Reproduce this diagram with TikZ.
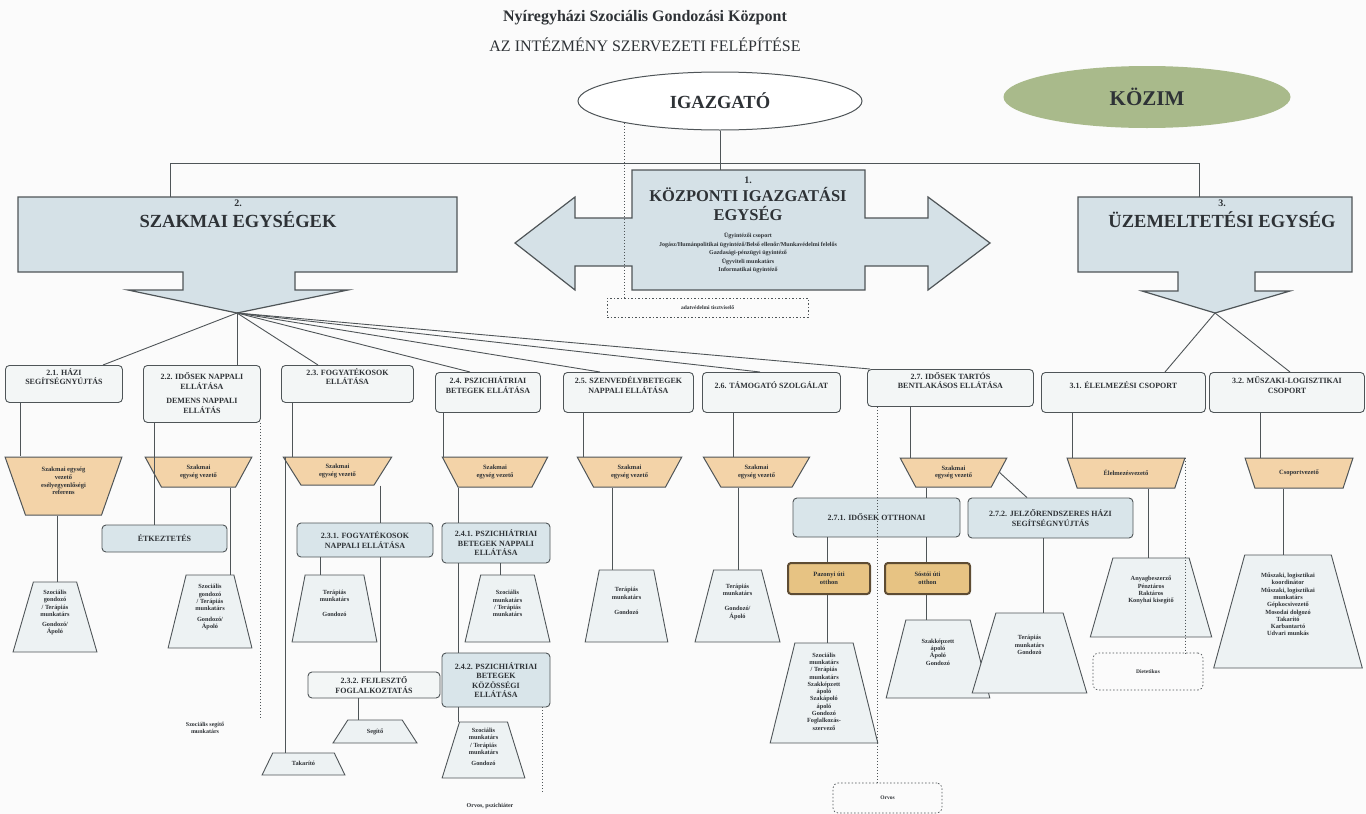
\documentclass[tikz,border=0pt]{standalone}
\usepackage{fontspec}
\setmainfont{Liberation Serif}
\usetikzlibrary{shapes.geometric}
\definecolor{lineC}{HTML}{4F5558}
\definecolor{txtC}{HTML}{2E3236}
\definecolor{bgC}{HTML}{FBFBFB}
\definecolor{bigC}{HTML}{D5E1E7}
\definecolor{l2C}{HTML}{F3F6F6}
\definecolor{subC}{HTML}{D9E5EA}
\definecolor{tanC}{HTML}{F3D3A8}
\definecolor{lowC}{HTML}{EDF2F3}
\definecolor{brownC}{HTML}{E7C383}
\definecolor{brownD}{HTML}{5E4C33}
\definecolor{kozimC}{HTML}{A9BA8B}
\tikzset{
  trapdims/.code n args={3}{%
    \pgfmathsetmacro\trA{atan2(2*(#3),(#2)-(#1))}%
    \pgfmathsetmacro\trW{max(#1,#2)}%
    \edef\trNext{\noexpand\pgfkeysalso{/tikz/shape=trapezium,/pgf/trapezium stretches=true,/pgf/minimum width=\trW pt,/pgf/minimum height=#3pt,/pgf/trapezium angle=\trA}}%
    \trNext},
  conn/.style={draw=lineC, line width=0.9pt},
  dotl/.style={draw=lineC, line width=0.8pt, dash pattern=on 1pt off 2pt},
  lvtwo/.style={draw=lineC, line width=0.9pt, rounded corners=4pt, fill=l2C, font=\bfseries\fontsize{8}{9.4}\selectfont, text=txtC, align=center, inner sep=1pt, anchor=north west, text depth=15pt},
  subbox/.style={draw=lineC, line width=0.9pt, rounded corners=4pt, fill=subC, font=\bfseries\fontsize{8}{9.4}\selectfont, text=txtC, align=center, inner sep=1pt},
  tantrap/.style={draw=lineC, line width=1pt, fill=tanC, font=\bfseries\fontsize{6.5}{7.6}\selectfont, text=txtC, align=center, inner sep=1pt},
  lowtrap/.style={draw=lineC, line width=0.9pt, fill=lowC, font=\bfseries\fontsize{6.3}{7.3}\selectfont, text=txtC, align=center, inner sep=1pt, text depth=10pt},
  brownbox/.style={draw=brownD, line width=2pt, rounded corners=3pt, fill=brownC, font=\bfseries\fontsize{6.5}{7.6}\selectfont, text=txtC, align=center, inner sep=1pt},
  dashbox/.style={draw=lineC, line width=0.7pt, dash pattern=on 1.5pt off 2pt, font=\bfseries\fontsize{5.5}{6.5}\selectfont, text=txtC, align=center, inner sep=1pt},
  bigshape/.style={draw=lineC, line width=1.2pt, fill=bigC},
  bigtext/.style={font=\bfseries\fontsize{18.5}{21}\selectfont, text=txtC, align=center, inner sep=0pt},
  smalltext/.style={font=\bfseries\fontsize{6}{7}\selectfont, text=txtC, align=center, inner sep=0pt}
}
\begin{document}
\begin{tikzpicture}[x=1pt,y=-1pt]
\useasboundingbox (0,0) rectangle (1366,814);
\fill[bgC] (0,0) rectangle (1366,814);

% titles
\node[font=\bfseries\fontsize{16}{18}\selectfont, text=txtC] (title) at (645,18) {Nyíregyházi Szociális Gondozási Központ};
\node[font=\fontsize{16}{18}\selectfont, text=txtC] (subtitle) at (645,45) {AZ INTÉZMÉNY SZERVEZETI FELÉPÍTÉSE};

% top ellipses
\node[ellipse, draw=lineC, line width=1pt, fill=white, minimum width=284, minimum height=58, font=\bfseries\fontsize{18.5}{20}\selectfont, text=txtC] (igaz) at (720,101) {IGAZGATÓ};
\node[ellipse, fill=kozimC, minimum width=287, minimum height=62, font=\bfseries\fontsize{21}{23}\selectfont, text=txtC] (kozim) at (1147,97) {KÖZIM};

% central double arrow
\path[bigshape] (632,170) -- (865,170) -- (865,218) -- (928,218) -- (928,197) -- (990,243) -- (928,290) -- (928,266) -- (865,266) -- (865,290) -- (632,290) -- (632,266) -- (575,266) -- (575,290) -- (515,243) -- (575,197) -- (575,218) -- (632,218) -- cycle;
\node[minimum width=233, minimum height=120, inner sep=0pt] (kozp) at (748.5,230) {};
\node[font=\bfseries\fontsize{16.5}{18.5}\selectfont, text=txtC, align=center, anchor=north] (kozpT) at (748,173) {{\fontsize{10}{12}\selectfont 1.}\\KÖZPONTI IGAZGATÁSI\\EGYSÉG};
\node[font=\bfseries\fontsize{6}{8.6}\selectfont, text=txtC, align=center, anchor=north] (kozpS) at (748,229) {Ügyintézői csoport\\Jogász/Humánpolitikai ügyintéző/Belső ellenőr/Munkavédelmi felelős\\Gazdasági-pénzügyi ügyintéző\\Ügyviteli munkatárs\\Informatikai ügyintéző};
\node[dashbox, minimum width=201, minimum height=19] (dAdm) at (707.5,307.5) {adatvédelmi tisztviselő};

% SZAKMAI EGYSEGEK
\path[bigshape] (18,197) -- (457,197) -- (457,272) -- (295,272) -- (295,290) -- (348,290) -- (237,313) -- (128,290) -- (183,290) -- (183,272) -- (18,272) -- cycle;
\node[minimum width=439, minimum height=75, inner sep=0pt] (szak) at (237.5,234.5) {};
\node[bigtext, anchor=north] (szakT) at (238,200) {{\fontsize{10}{12}\selectfont 2.}\\SZAKMAI EGYSÉGEK};
\coordinate (szTip) at (237,313);

% UZEMELTETESI EGYSEG
\path[bigshape] (1078,197) -- (1352,197) -- (1352,272) -- (1255,272) -- (1255,291) -- (1290,291) -- (1215,313) -- (1142,291) -- (1178,291) -- (1178,272) -- (1078,272) -- cycle;
\node[minimum width=274, minimum height=75, inner sep=0pt] (uzem) at (1215,234.5) {};
\node[bigtext, anchor=north] (uzemT) at (1222,200) {{\fontsize{10}{12}\selectfont 3.}\\ÜZEMELTETÉSI EGYSÉG};
\coordinate (uzTip) at (1215,313);

% level 2 boxes
\node[lvtwo, minimum width=117, minimum height=37] (b21) at (5,365) {2.1. HÁZI\\SEGÍTSÉGNYÚJTÁS};
\node[lvtwo, text depth=2pt, minimum width=117, minimum height=57] (b22) at (143,365) {2.2. IDŐSEK NAPPALI\\ELLÁTÁSA\\[5pt]DEMENS NAPPALI\\ELLÁTÁS};
\node[lvtwo, minimum width=132, minimum height=37] (b23) at (281,365) {2.3. FOGYATÉKOSOK\\ELLÁTÁSA};
\node[lvtwo, minimum width=105, minimum height=40] (b24) at (435,372) {2.4. PSZICHIÁTRIAI\\BETEGEK ELLÁTÁSA};
\node[lvtwo, minimum width=130, minimum height=40] (b25) at (563,372) {2.5. SZENVEDÉLYBETEGEK\\NAPPALI ELLÁTÁSA};
\node[lvtwo, minimum width=138, minimum height=40] (b26) at (702,372) {2.6. TÁMOGATÓ SZOLGÁLAT};
\node[lvtwo, minimum width=166, minimum height=37] (b27) at (867,369) {2.7. IDŐSEK TARTÓS\\BENTLAKÁSOS ELLÁTÁSA};
\node[lvtwo, minimum width=164, minimum height=40] (b31) at (1041,372) {3.1. ÉLELMEZÉSI CSOPORT};
\node[lvtwo, minimum width=155, minimum height=40] (b32) at (1209,372) {3.2. MŰSZAKI-LOGISZTIKAI\\CSOPORT};

% tan trapezoids
\node[tantrap, text depth=10pt, trapdims={117}{80}{58}] (t21) at (63.5,486) {Szakmai egység\\vezető\\esélyegyenlőségi\\referens};
\node[tantrap, trapdims={107}{74}{30}] (t22) at (198.5,472) {Szakmai\\egység vezető};
\node[tantrap, trapdims={109}{75}{28}] (t23) at (337.5,471) {Szakmai\\egység vezető};
\node[tantrap, trapdims={106}{74}{30}] (t24) at (495,472) {Szakmai\\egység vezető};
\node[tantrap, trapdims={105}{71}{30}] (t25) at (629.5,472) {Szakmai\\egység vezető};
\node[tantrap, trapdims={107}{70}{30}] (t26) at (756.5,472) {Szakmai\\egység vezető};
\node[tantrap, trapdims={107}{77}{29}] (t27) at (953.5,472.5) {Szakmai\\egység vezető};
\node[tantrap, trapdims={118}{80}{30}] (t31) at (1126,473) {Élelmezésvezető};
\node[tantrap, trapdims={108}{73}{30}] (t32) at (1299,473) {Csoportvezető};

% sub boxes
\node[subbox, minimum width=125, minimum height=27] (etk) at (164.5,538.5) {ÉTKEZTETÉS};
\node[subbox, minimum width=136, minimum height=34] (b231) at (365,540) {2.3.1. FOGYATÉKOSOK\\NAPPALI ELLÁTÁSA};
\node[subbox, fill=l2C, minimum width=132, minimum height=26] (b232) at (374,685) {2.3.2. FEJLESZTŐ\\FOGLALKOZTATÁS};
\node[subbox, minimum width=108, minimum height=40] (b241) at (496,543) {2.4.1. PSZICHIÁTRIAI\\BETEGEK NAPPALI\\ELLÁTÁSA};
\node[subbox, minimum width=108, minimum height=54] (b242) at (496,680) {2.4.2. PSZICHIÁTRIAI\\BETEGEK\\KÖZÖSSÉGI\\ELLÁTÁSA};
\node[subbox, minimum width=167, minimum height=39] (b271) at (876.5,517.5) {2.7.1. IDŐSEK OTTHONAI};
\node[subbox, minimum width=165, minimum height=40] (b272) at (1050.5,518) {2.7.2. JELZŐRENDSZERES HÁZI\\SEGÍTSÉGNYÚJTÁS};
\node[brownbox, minimum width=82, minimum height=31] (br1) at (829,578.5) {Pazonyi úti\\otthon};
\node[brownbox, minimum width=85, minimum height=31] (br2) at (927.5,578.5) {Sóstói úti\\otthon};

% lower trapezoids
\node[lowtrap, trapdims={47}{84}{70}] (l21) at (55,617) {Szociális\\gondozó\\/ Terápiás\\munkatárs\\[3pt]Gondozó/\\Ápoló};
\node[lowtrap, trapdims={53}{84}{73}] (l22) at (210,611.5) {Szociális\\gondozó\\/ Terápiás\\munkatárs\\[3pt]Gondozó/\\Ápoló};
\node[lowtrap, trapdims={61}{85}{67}] (l231) at (334.5,608.5) {Terápiás\\munkatárs\\[8pt]Gondozó};
\node[lowtrap, text depth=1pt, trapdims={53}{84}{23}] (l232) at (375,731.5) {Segítő};
\node[lowtrap, text depth=1pt, trapdims={57}{83}{22}] (ltak) at (303.5,764) {Takarító};
\node[lowtrap, trapdims={53}{85}{67}] (l241) at (507.5,608.5) {Szociális\\munkatárs\\/ Terápiás\\munkatárs};
\node[lowtrap, text depth=6pt, trapdims={55}{83}{56}] (l242) at (483.5,750) {Szociális\\munkatárs\\/ Terápiás\\munkatárs\\[4pt]Gondozó};
\node[lowtrap, trapdims={53}{83}{72}] (l25) at (626.5,606) {Terápiás\\munkatárs\\[8pt]Gondozó};
\node[lowtrap, trapdims={47}{85}{72}] (l26) at (737.5,606) {Terápiás\\munkatárs\\[8pt]Gondozó/\\Ápoló};
\node[lowtrap, text depth=3pt, trapdims={71}{108}{100}] (l271a) at (824,693) {Szociális\\munkatárs\\/ Terápiás\\munkatárs\\Szakképzett\\ápoló\\Szakápoló\\ápoló\\Gondozó\\Foglalkozás-\\szervező};
\node[lowtrap, text depth=14pt, trapdims={65}{104}{78}] (l271b) at (938,659) {Szakképzett\\ápoló\\Ápoló\\Gondozó};
\node[lowtrap, text depth=16pt, trapdims={67}{115}{80}] (l272) at (1029.5,653) {Terápiás\\munkatárs\\Gondozó};
\node[lowtrap, text depth=16pt, trapdims={72}{122}{79}] (l31) at (1151,597.5) {Anyagbeszerző\\Pénztáros\\Raktáros\\Konyhai kisegítő};
\node[lowtrap, text depth=14pt, trapdims={93}{150}{113}] (l32) at (1288,611.5) {Műszaki, logisztikai\\koordinátor\\Műszaki, logisztikai\\munkatárs\\Gépkocsivezető\\Mosodai dolgozó\\Takarító\\Karbantartó\\Udvari munkás};

% dashed boxes and free texts
\node[dashbox, rounded corners=5pt, minimum width=110, minimum height=37] (dDiet) at (1148,671.5) {Dietetikus};
\node[dashbox, rounded corners=5pt, minimum width=109, minimum height=30] (dOrv) at (887.5,798) {Orvos};
\node[smalltext] (ftxt) at (205,728) {Szociális segítő\\munkatárs};
\node[smalltext] (orvT) at (490,806) {Orvos, pszichiáter};

% main connectors
\draw[conn] (igaz.south) -- (igaz.south |- kozp.north);
\draw[conn] (szak.north -| 170,0) -- (170,163) -- (1199,163) -- (uzem.north -| 1199,0);
\draw[dotl] (igaz.193) -- (igaz.193 |- dAdm.north);

% fan from SZAKMAI
\foreach \b/\xx in {b21/103, b22/237, b23/318, b24/470, b25/600, b26/760, b27/870}
  \draw[conn] (szTip) -- (\b.north -| \xx,0);
\draw[conn] (uzTip) -- (b31.north -| 1165,0);
\draw[conn] (uzTip) -- (b32.north -| 1290,0);

% verticals
\draw[conn] (b21.south -| 20,0) -- (t21.north -| 20,0);
\draw[conn] (t21.south -| 57,0) -- (l21.north -| 57,0);
\draw[conn] (b22.south -| 154,0) -- (etk.north -| 154,0);
\draw[conn] (t22.south -| 230,0) -- (l22.north -| 230,0);
\draw[conn] (b23.south -| 292,0) -- (t23.north -| 292,0);
\draw[conn] (t23.north -| 285,0) -- (ltak.north -| 285,0);
\draw[conn] (t23.south -| 380,0) -- (b231.north -| 380,0);
\draw[conn] (b231.south -| 380,0) -- (b232.north -| 380,0);
\draw[conn] (b231.south -| 320,0) -- (l231.north -| 320,0);
\draw[conn] (b232.south -| 358,0) -- (l232.north -| 358,0);
\draw[conn] (b24.south -| 443,0) -- (t24.north -| 443,0);
\draw[conn] (t24.south -| 458,0) -- (b241.north -| 458,0);
\draw[conn] (b241.south -| 458,0) -- (b242.north -| 458,0);
\draw[conn] (b242.south -| 458,0) -- (l242.north -| 458,0);
\draw[conn] (b241.south -| 500,0) -- (l241.north -| 500,0);
\draw[conn] (b25.south -| 583,0) -- (t25.north -| 583,0);
\draw[conn] (t25.south -| 612,0) -- (l25.north -| 612,0);
\draw[conn] (b26.south -| 733,0) -- (t26.north -| 733,0);
\draw[conn] (t26.south -| 738,0) -- (l26.north -| 738,0);
\draw[conn] (b27.south -| 910,0) -- (t27.north -| 910,0);
\draw[conn] (t27.south -| 926,0) -- (b271.north -| 926,0);
\draw[conn] (t27.east) -- (b272.north -| 1027,0);
\draw[conn] (b271.south -| 827,0) -- (br1.north -| 827,0);
\draw[conn] (b271.south -| 926,0) -- (br2.north -| 926,0);
\draw[conn] (br1.south -| 827,0) -- (l271a.north -| 827,0);
\draw[conn] (br2.south -| 926,0) -- (l271b.north -| 926,0);
\draw[conn] (b272.south -| 1043,0) -- (l272.north -| 1043,0);
\draw[conn] (b31.south -| 1072,0) -- (t31.north -| 1072,0);
\draw[conn] (t31.south -| 1148,0) -- (l31.north -| 1148,0);
\draw[conn] (b32.south -| 1260,0) -- (t32.north -| 1260,0);
\draw[conn] (t32.south -| 1283,0) -- (l32.north -| 1283,0);

% dotted connectors
\draw[dotl] (b22.south -| 260,0) -- (260,717);
\draw[dotl] (b242.south -| 542,0) -- (542,792);
\draw[dotl] (b27.south -| 877,0) -- (dOrv.north -| 877,0);
\draw[dotl] (t31.north -| 1185,0) -- (dDiet.north -| 1185,0);
\end{tikzpicture}
\end{document}
